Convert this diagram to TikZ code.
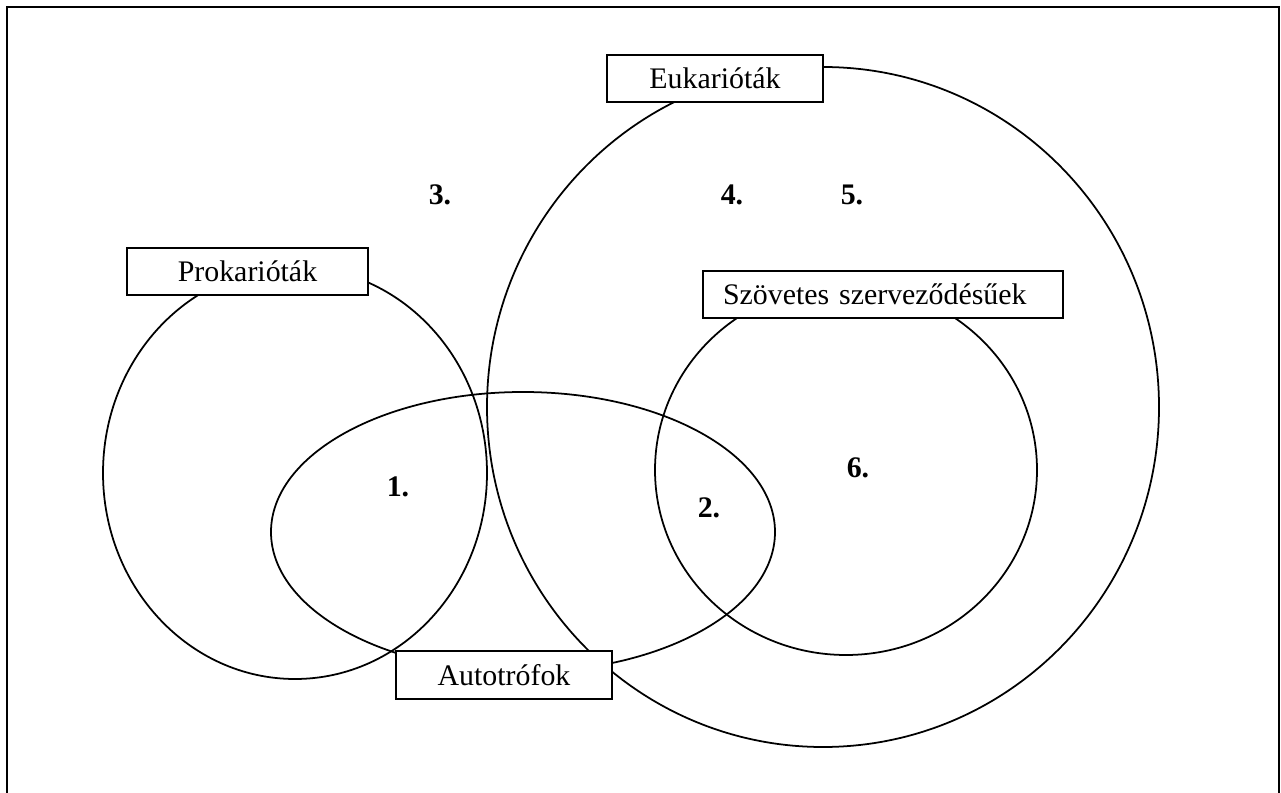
\documentclass[tikz,border=0pt]{standalone}
\usepackage{fontspec}
\setmainfont{Liberation Serif}
\usetikzlibrary{calc}
\tikzset{
	setbox/.style={draw, fill=white, line width=1.1pt, inner sep=0pt, minimum height=0.95cm, font=\fontsize{17}{20}\selectfont},
	regnum/.style={font=\fontsize{17}{20}\selectfont\bfseries},
	setline/.style={line width=1pt}
}

\begin{document}
\begin{tikzpicture}[x=0.02cm, y=-0.02cm]
			%%%%% START %%%%%
			\useasboundingbox (0, 0) rectangle (1281, 793);
			
			\draw[line width=1.4pt] (7, 810) -- (7, 7) -- (1279, 7) -- (1279, 810);
			
			% sets
			\draw[setline] (295, 473) ellipse [x radius=192, y radius=206];
			\draw[setline] (823, 407) ellipse [x radius=336, y radius=340];
			\draw[setline] (523, 532) ellipse [x radius=252, y radius=140];
			\draw[setline] (846, 470) ellipse [x radius=191, y radius=185];
			
			% labels
			\node[setbox, minimum width=4.32cm] (euk) at (715, 78.5) {Eukarióták};
			\node[setbox, minimum width=4.82cm] (prok) at (247.5, 271.5) {Prokarióták};
			\node[setbox, text width=6.4cm, inner xsep=0.4cm, align=left] (szov) at (883, 294.5) {Szövetes szerveződésűek};
			\node[setbox, minimum width=4.32cm] (auto) at (504, 675) {Autotrófok};
			
			% regions
			\node[regnum] (r1) at (398, 487) {1.};
			\node[regnum] (r2) at (709, 508) {2.};
			\node[regnum] (r3) at (440, 195) {3.};
			\node[regnum] (r4) at (732, 195) {4.};
			\node[regnum] (r5) at (852, 195) {5.};
			\node[regnum] (r6) at (858, 468) {6.};
			
			%%%%% END %%%%%
\end{tikzpicture}
\end{document}
